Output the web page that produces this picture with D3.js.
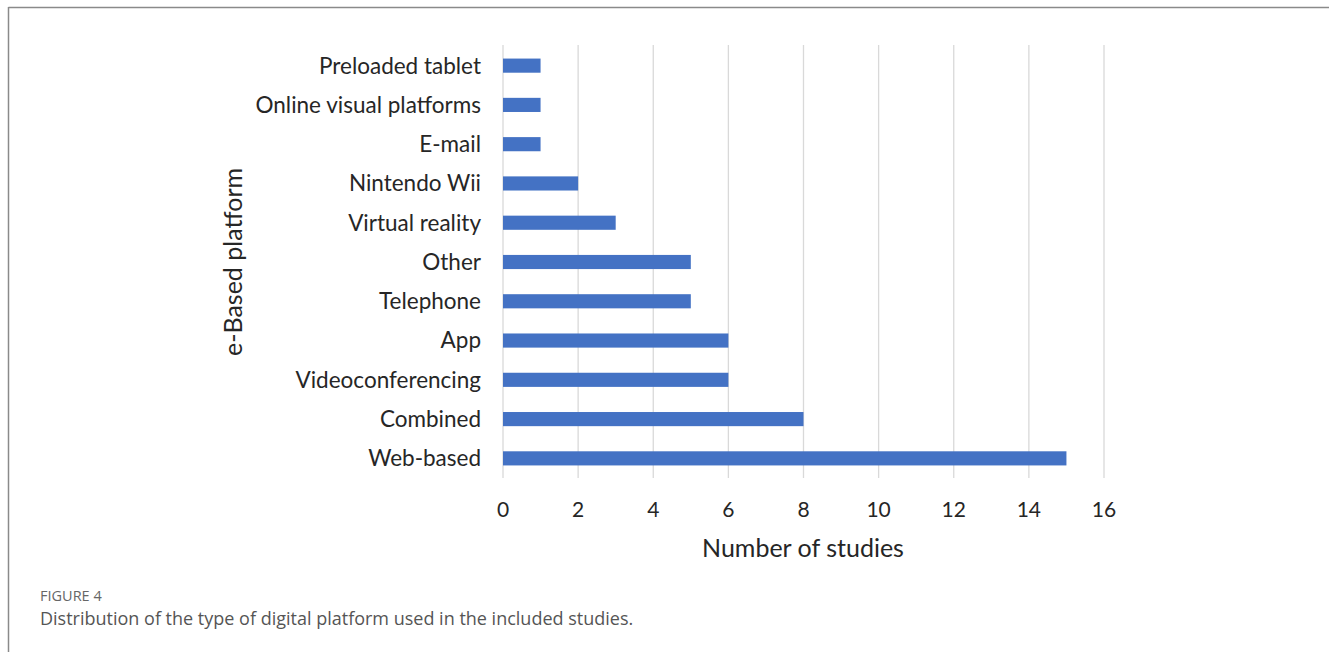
<!DOCTYPE html>
<html><head><meta charset="utf-8">
<script src="https://cdn.jsdelivr.net/npm/d3@7"></script>
<style>html,body{margin:0;padding:0;background:#fff;}svg{display:block;}</style>
</head><body>
<script>
const categories = ["Preloaded tablet","Online visual platforms","E-mail","Nintendo Wii ","Virtual reality","Other","Telephone","App","Videoconferencing","Combined","Web-based"];
const values = [1,1,1,2,3,5,5,6,6,8,15];
const xTicks = [0,2,4,6,8,10,12,14,16];
const xTitle = "Number of studies";
const yTitle = "e-Based platform";
const figLabel = "FIGURE 4";
const caption = "Distribution of the type of digital platform used in the included studies.";

const W = 1329, H = 652;
const svg = d3.select("body").append("svg").attr("width", W).attr("height", H);

// frame
svg.append("line").attr("x1",8.5).attr("x2",W).attr("y1",7.5).attr("y2",7.5).attr("stroke","#8a8a8a").attr("stroke-width",1.5);
svg.append("line").attr("x1",8.5).attr("x2",8.5).attr("y1",7).attr("y2",H).attr("stroke","#8a8a8a").attr("stroke-width",1.5);

const x = d3.scaleLinear().domain([0,16]).range([503,1104]);
const y = d3.scaleBand().domain(categories).range([46,478]).paddingInner(0.64).paddingOuter(0.32);

const font = "Lato, 'Open Sans', sans-serif";

// gridlines
svg.append("g").selectAll("line").data(xTicks).join("line")
  .attr("x1", d=>x(d)).attr("x2", d=>x(d)).attr("y1",45).attr("y2",478)
  .attr("stroke","#d9d9d9").attr("stroke-width",1.3);

// bars
svg.append("g").selectAll("rect").data(values).join("rect")
  .attr("x", x(0)).attr("y", (d,i)=>y(categories[i]))
  .attr("width", d=>x(d)-x(0)).attr("height", y.bandwidth())
  .attr("fill","#4472c4");

// x tick labels
svg.append("g").selectAll("text").data(xTicks).join("text")
  .attr("x", d=>x(d)).attr("y", 517).attr("text-anchor","middle")
  .attr("font-family", font).attr("font-size", 21).attr("fill","#262626").text(d=>d);

// y category labels
svg.append("g").selectAll("text").data(categories).join("text")
  .attr("x", 481).attr("y", d=>y(d)+y.bandwidth()/2).attr("dy","0.35em").attr("text-anchor","end")
  .attr("font-family", font).attr("font-size", 22.5).attr("fill","#262626").text(d=>d);

// axis titles
svg.append("text").attr("x", 803).attr("y", 557).attr("text-anchor","middle")
  .attr("font-family", font).attr("font-size", 25).attr("fill","#262626").text(xTitle);
svg.append("text").attr("transform","translate(242,262) rotate(-90)").attr("text-anchor","middle")
  .attr("font-family", font).attr("font-size", 25).attr("fill","#262626").text(yTitle);

// caption
svg.append("text").attr("x",40).attr("y",601).attr("font-family","'Open Sans', sans-serif").attr("font-size",14.5).attr("fill","#666").text(figLabel);
svg.append("text").attr("x",40).attr("y",625).attr("font-family","'Open Sans', sans-serif").attr("font-size",18).attr("fill","#555").text(caption);
</script>
</body></html>
